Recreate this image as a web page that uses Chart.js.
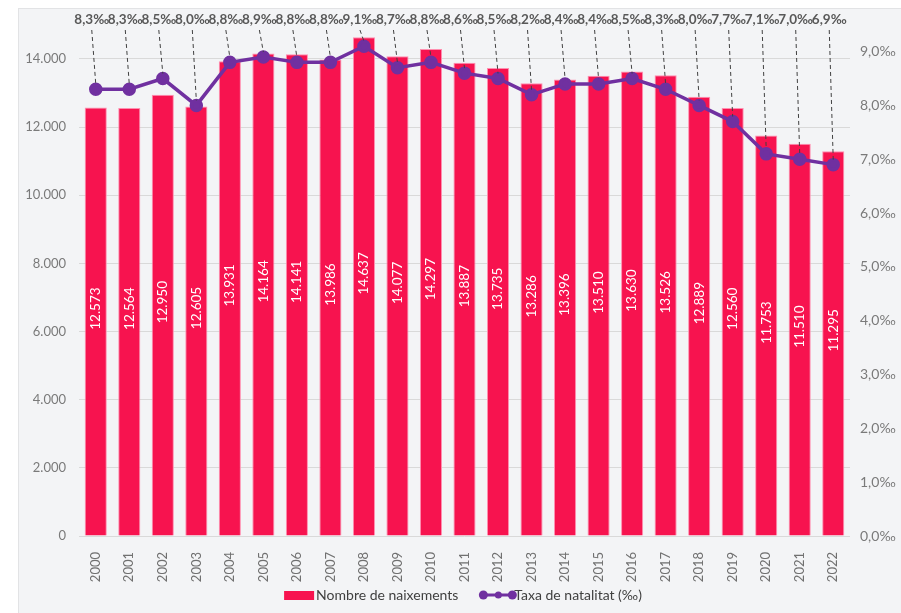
<!DOCTYPE html>
<html>
<head>
<meta charset="utf-8">
<script src="https://cdn.jsdelivr.net/npm/chart.js@4.4.1/dist/chart.umd.min.js"></script>
<style>
  html, body { margin: 0; padding: 0; background: #ffffff; }
  #frame {
    position: absolute; left: 18px; top: 8px; width: 900px; height: 620px;
    background: #f3f4f6; border: 1px solid #e2e3e5;
  }
  #c { position: absolute; left: 0; top: 0; }
</style>
</head>
<body>
<div id="frame"></div>
<canvas id="c" width="901" height="613"></canvas>
<script>
// ---- data ----
const years = ["2000","2001","2002","2003","2004","2005","2006","2007","2008","2009","2010",
  "2011","2012","2013","2014","2015","2016","2017","2018","2019","2020","2021","2022"];
const births = [12573, 12564, 12950, 12605, 13931, 14164, 14141, 13986, 14637, 14077, 14297,
  13887, 13735, 13286, 13396, 13510, 13630, 13526, 12889, 12560, 11753, 11510, 11295];
const birthRate = [8.3, 8.3, 8.5, 8.0, 8.8, 8.9, 8.8, 8.8, 9.1, 8.7, 8.8,
  8.6, 8.5, 8.2, 8.4, 8.4, 8.5, 8.3, 8.0, 7.7, 7.1, 7.0, 6.9];
const birthTicks = [0, 2000, 4000, 6000, 8000, 10000, 12000, 14000];
const rateTicks = [0, 1, 2, 3, 4, 5, 6, 7, 8, 9];

const BAR_COLOR = "#f7134f";
const LINE_COLOR = "#7030a0";
const FONT = "Lato, 'Open Sans', sans-serif";

function fmtThousands(v) {
  return String(Math.round(v)).replace(/\B(?=(\d{3})+(?!\d))/g, ".");
}
function fmtPermil(v) {
  return v.toFixed(1).replace(".", ",") + "‰";
}

// values inside the bars, rotated
const barLabels = {
  id: "barLabels",
  afterDatasetsDraw(chart) {
    const ctx = chart.ctx;
    const meta = chart.getDatasetMeta(0);
    ctx.save();
    ctx.fillStyle = "#ffffff";
    ctx.font = "13.5px " + FONT;
    ctx.textAlign = "center";
    ctx.textBaseline = "middle";
    meta.data.forEach((bar, i) => {
      const y = (bar.y + bar.base) / 2 - 13;
      ctx.save();
      ctx.translate(bar.x, y);
      ctx.rotate(-Math.PI / 2);
      ctx.fillText(fmtThousands(births[i]), 0, 0);
      ctx.restore();
    });
    ctx.restore();
  }
};

// rate labels on top with dashed leader lines
const rateLabels = {
  id: "rateLabels",
  afterDatasetsDraw(chart) {
    const ctx = chart.ctx;
    const meta = chart.getDatasetMeta(1);
    ctx.save();
    meta.data.forEach((pt, i) => {
      const lx = pt.x - 4;
      ctx.strokeStyle = "#404040";
      ctx.lineWidth = 1;
      ctx.setLineDash([4, 3]);
      ctx.beginPath();
      ctx.moveTo(lx, 30);
      ctx.lineTo(pt.x, pt.y - 5);
      ctx.stroke();
      ctx.setLineDash([]);
      ctx.fillStyle = "#595959";
      ctx.font = "bold 13.5px " + FONT;
      ctx.textAlign = "center";
      ctx.textBaseline = "middle";
      ctx.fillText(fmtPermil(birthRate[i]), lx, 20);
    });
    ctx.restore();
  }
};

// custom legend at the bottom
const bottomLegend = {
  id: "bottomLegend",
  afterDraw(chart) {
    const ctx = chart.ctx;
    ctx.save();
    ctx.font = "14px " + FONT;
    ctx.textBaseline = "middle";
    const t1 = "Nombre de naixements";
    const t2 = "Taxa de natalitat (‰)";
    const w1 = ctx.measureText(t1).width;
    const w2 = ctx.measureText(t2).width;
    const total = 30 + 2 + w1 + 22 + 36 + w2;
    let x = 464 - total / 2;
    const y = 595;
    ctx.fillStyle = BAR_COLOR;
    ctx.fillRect(x, y - 4, 30, 9);
    x += 32;
    ctx.fillStyle = "#404040";
    ctx.fillText(t1, x, y);
    x += w1 + 22;
    ctx.strokeStyle = LINE_COLOR;
    ctx.lineWidth = 3;
    ctx.beginPath();
    ctx.moveTo(x, y);
    ctx.lineTo(x + 32, y);
    ctx.stroke();
    ctx.fillStyle = LINE_COLOR;
    [[x + 3, 4.5], [x + 18, 3.5], [x + 32, 4.5]].forEach(([px, r]) => {
      ctx.beginPath();
      ctx.arc(px, y, r, 0, Math.PI * 2);
      ctx.fill();
    });
    x += 34;
    ctx.fillStyle = "#404040";
    ctx.fillText(t2, x, y);
    ctx.restore();
  }
};

new Chart(document.getElementById("c"), {
  data: {
    labels: years,
    datasets: [
      {
        type: "bar",
        label: "Nombre de naixements",
        data: births,
        yAxisID: "y",
        backgroundColor: BAR_COLOR,
        borderColor: "#ff8fb0",
        borderWidth: 1,
        categoryPercentage: 1,
        barPercentage: 0.66,
        order: 2
      },
      {
        type: "line",
        label: "Taxa de natalitat (‰)",
        data: birthRate,
        yAxisID: "y1",
        borderColor: LINE_COLOR,
        backgroundColor: LINE_COLOR,
        borderWidth: 3.5,
        pointRadius: 5,
        pointBackgroundColor: LINE_COLOR,
        pointBorderColor: LINE_COLOR,
        tension: 0,
        order: 1
      }
    ]
  },
  options: {
    responsive: false,
    animation: false,
    devicePixelRatio: 1,
    layout: { padding: { top: 36, left: 0, right: 0, bottom: 0 } },
    plugins: {
      legend: { display: false },
      tooltip: { enabled: false }
    },
    scales: {
      x: {
        offset: true,
        grid: { display: false },
        border: { display: false },
        ticks: {
          color: "#707070",
          font: { family: FONT, size: 13 },
          minRotation: 90,
          maxRotation: 90,
          padding: 8,
          autoSkip: false
        },
        afterFit(scale) { scale.height = 77; }
      },
      y: {
        position: "left",
        min: 0,
        max: 14675,
        grid: { color: "#d9d9d9", drawTicks: false },
        border: { display: false },
        ticks: {
          color: "#7a7a7a",
          padding: 13,
          font: { family: FONT, size: 13 },
          callback: (v) => fmtThousands(v)
        },
        afterBuildTicks(scale) { scale.ticks = birthTicks.map((v) => ({ value: v })); },
        afterFit(scale) { scale.width = 79; }
      },
      y1: {
        position: "right",
        min: 0,
        max: 9.29,
        grid: { display: false, drawTicks: false },
        border: { display: false },
        ticks: {
          color: "#7a7a7a",
          padding: 10,
          font: { family: FONT, size: 14 },
          callback: (v) => fmtPermil(v)
        },
        afterBuildTicks(scale) { scale.ticks = rateTicks.map((v) => ({ value: v })); },
        afterFit(scale) { scale.width = 51; }
      }
    }
  },
  plugins: [barLabels, rateLabels, bottomLegend]
});
</script>
</body>
</html>
